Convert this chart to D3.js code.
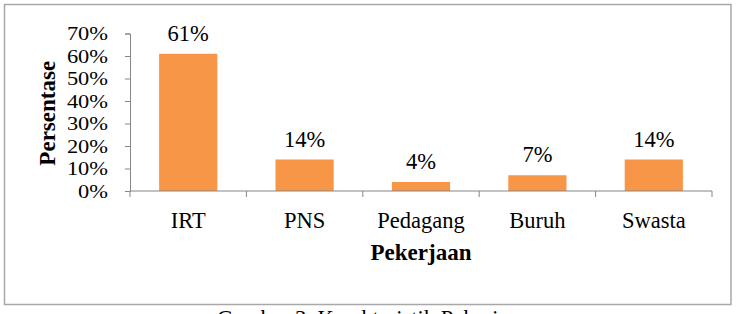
<!DOCTYPE html>
<html>
<head>
<meta charset="utf-8">
<script src="https://cdn.jsdelivr.net/npm/d3@7"></script>
<style>
  body { margin: 0; background: #fff; }
  text { font-family: "Liberation Serif", "Times New Roman", serif; fill: #000; }
</style>
</head>
<body>
<script>
var w = 737,
    h = 314;

var categories = ["IRT", "PNS", "Pedagang", "Buruh", "Swasta"],
    values = [61, 14, 4, 7, 14],
    yTicks = [0, 10, 20, 30, 40, 50, 60, 70];

var plotLeft = 130, plotRight = 712, plotTop = 33.5, plotBottom = 191;
var fs = "22.5px";

var svg = d3.select("body")
            .append("svg")
            .attr("width", w)
            .attr("height", h);

// chart frame
svg.append("rect")
    .attr("x", 4.5)
    .attr("y", 4.5)
    .attr("width", 726.5)
    .attr("height", 300)
    .attr("fill", "none")
    .attr("stroke", "#a8a8a8")
    .attr("stroke-width", 1.5);

var x = d3.scaleBand()
    .domain(categories)
    .range([plotLeft, plotRight])
    .paddingInner(0.5)
    .paddingOuter(0.25);

var xb = d3.scaleBand()
    .domain(categories)
    .range([plotLeft, plotRight]);

var y = d3.scaleLinear()
    .domain([0, 70])
    .range([plotBottom, plotTop]);

// y axis
var yAxis = svg.append("g")
    .attr("transform", "translate(" + plotLeft + ",0)")
    .call(d3.axisLeft(y)
        .tickValues(yTicks)
        .tickSize(5)
        .tickPadding(17)
        .tickFormat(function(d) { return d + "%"; }));

yAxis.selectAll("path, line").attr("stroke", "#868686");
// smaller glyphs, stretched sideways to keep the reference widths
yAxis.selectAll("text")
    .attr("font-size", "19.5px")
    .attr("font-family", "Liberation Serif")
    .attr("fill", "#000")
    .each(function() {
        var len = this.getComputedTextLength();
        d3.select(this)
            .attr("textLength", len * 1.15)
            .attr("lengthAdjust", "spacingAndGlyphs");
    });

// bars
svg.selectAll("rect.bar")
    .data(values)
    .enter()
    .append("rect")
    .attr("class", "bar")
    .attr("x", function(d, i) { return x(categories[i]); })
    .attr("y", function(d) { return y(d); })
    .attr("width", x.bandwidth())
    .attr("height", function(d) { return plotBottom - y(d); })
    .attr("fill", "#F79646");

// x axis line and band ticks
svg.append("line")
    .attr("x1", plotLeft).attr("x2", plotRight)
    .attr("y1", plotBottom).attr("y2", plotBottom)
    .attr("stroke", "#868686");

svg.selectAll("line.xtick")
    .data(categories.concat(["end"]))
    .enter()
    .append("line")
    .attr("class", "xtick")
    .attr("x1", function(d, i) { return i < categories.length ? xb(d) : plotRight; })
    .attr("x2", function(d, i) { return i < categories.length ? xb(d) : plotRight; })
    .attr("y1", plotBottom)
    .attr("y2", plotBottom + 6)
    .attr("stroke", "#868686");

// category labels
svg.selectAll("text.cat")
    .data(categories)
    .enter()
    .append("text")
    .attr("class", "cat")
    .text(function(d) { return d; })
    .attr("x", function(d) { return xb(d) + xb.bandwidth() / 2; })
    .attr("y", 228)
    .attr("text-anchor", "middle")
    .attr("font-size", fs);

// value labels
svg.selectAll("text.val")
    .data(values)
    .enter()
    .append("text")
    .attr("class", "val")
    .text(function(d) { return d + "%"; })
    .attr("x", function(d, i) { return x(categories[i]) + x.bandwidth() / 2; })
    .attr("y", function(d) { return y(d) - 13; })
    .attr("text-anchor", "middle")
    .attr("font-size", fs);

// axis titles
svg.append("text")
    .text("Pekerjaan")
    .attr("x", (plotLeft + plotRight) / 2)
    .attr("y", 260)
    .attr("text-anchor", "middle")
    .attr("font-size", "23px")
    .attr("font-weight", "bold");

svg.append("text")
    .text("Persentase")
    .attr("transform", "translate(55," + ((plotTop + plotBottom) / 2 + 1) + ") rotate(-90)")
    .attr("text-anchor", "middle")
    .attr("font-size", "23px")
    .attr("font-weight", "bold");

// caption below frame
svg.append("text")
    .text("Gambar 3. Karakteristik Pekerjaan")
    .attr("x", 217)
    .attr("y", 326)
    .attr("font-size", fs);
</script>
</body>
</html>
